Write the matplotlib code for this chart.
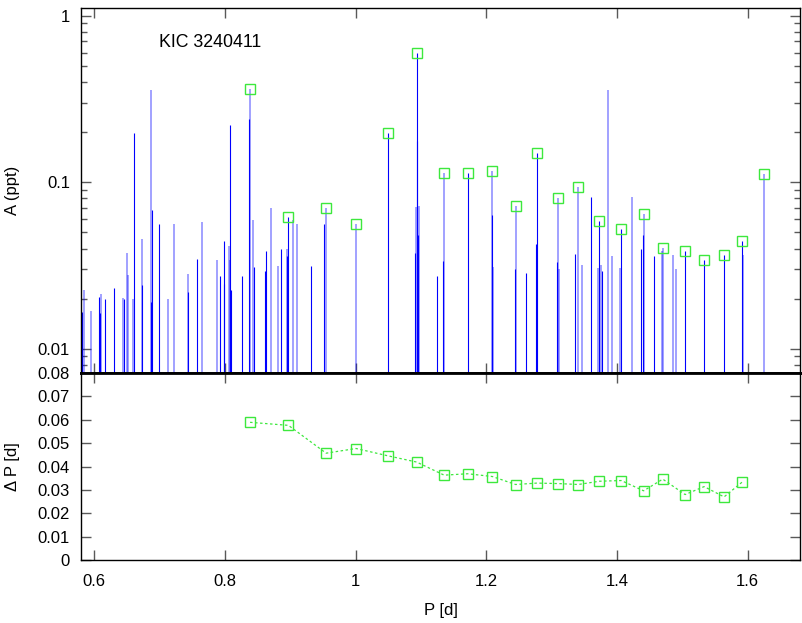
import numpy as np
import matplotlib
matplotlib.use('Agg')
import matplotlib.pyplot as plt
from matplotlib.ticker import FixedLocator, FixedFormatter, LogLocator, NullFormatter

plt.rcParams['font.family'] = ['Liberation Sans', 'DejaVu Sans']
plt.rcParams['font.size'] = 12

# dark (solid blue) peaks: period [d], amplitude [ppt]
p_dark = [0.5815, 0.6077, 0.609, 0.617, 0.6307, 0.646, 0.6613, 0.6736, 0.687, 0.688,
          0.6997, 0.743, 0.758, 0.793, 0.798, 0.799, 0.8084, 0.810, 0.8264, 0.8366,
          0.845, 0.862, 0.8636, 0.8866, 0.8953, 0.8973, 0.932, 0.951, 1.049, 1.091,
          1.0935, 1.0946, 1.096, 1.124, 1.1333, 1.1717, 1.2085, 1.2437, 1.2605, 1.276,
          1.2774, 1.3081, 1.336, 1.3597, 1.3729, 1.3765, 1.4065, 1.436, 1.439, 1.4569,
          1.5042, 1.5333, 1.5638, 1.5913]
a_dark = [0.0166, 0.0206, 0.0164, 0.0200, 0.0231, 0.0200, 0.197, 0.024, 0.019, 0.0683,
          0.0565, 0.022, 0.0346, 0.0274, 0.0245, 0.0446, 0.220, 0.0225, 0.0273, 0.240,
          0.0308, 0.0293, 0.0384, 0.0397, 0.0360, 0.0622, 0.0315, 0.0565, 0.197, 0.0375,
          0.594, 0.177, 0.0483, 0.0274, 0.0335, 0.114, 0.0637, 0.0303, 0.0287, 0.0425,
          0.149, 0.033, 0.0371, 0.082, 0.0587, 0.0295, 0.0523, 0.0397, 0.0483, 0.036,
          0.0385, 0.0342, 0.0367, 0.0445]

# light (faint blue) peaks
p_light = [0.585, 0.595, 0.610, 0.644, 0.6496, 0.652, 0.659, 0.6736, 0.6874, 0.7125,
           0.7217, 0.743, 0.7655, 0.7876, 0.807, 0.8085, 0.8386, 0.843, 0.8713, 0.881,
           0.8955, 0.9045, 0.9107, 0.955, 1.0008, 1.092, 1.0977, 1.1355, 1.2095, 1.211,
           1.2448, 1.3102, 1.312, 1.3408, 1.346, 1.3713, 1.375, 1.3857, 1.392, 1.4045,
           1.4228, 1.4407, 1.4686, 1.470, 1.4855, 1.491, 1.5935, 1.6244]
a_light = [0.0226, 0.0168, 0.0213, 0.0203, 0.0375, 0.0278, 0.020, 0.0455, 0.358, 0.020,
           0.0565, 0.0282, 0.058, 0.0342, 0.0415, 0.034, 0.362, 0.0595, 0.0705, 0.0315,
           0.0397, 0.0595, 0.0565, 0.0705, 0.0565, 0.0715, 0.072, 0.114, 0.1175, 0.0308,
           0.0722, 0.080, 0.030, 0.094, 0.032, 0.0305, 0.032, 0.358, 0.036, 0.0305,
           0.082, 0.0644, 0.0384, 0.0402, 0.0365, 0.030, 0.0365, 0.1117]

# modes of the period-spacing sequence
p_seq = [0.8386, 0.8973, 0.955, 1.0008, 1.049, 1.0935, 1.1355, 1.1717, 1.2095, 1.2448,
         1.2774, 1.3102, 1.3408, 1.3729, 1.4065, 1.4407, 1.470, 1.5042, 1.5333, 1.5638,
         1.5913, 1.6244]
a_seq = [0.362, 0.0622, 0.0705, 0.0565, 0.197, 0.594, 0.114, 0.114, 0.1175, 0.0722,
         0.149, 0.080, 0.094, 0.0587, 0.0523, 0.0644, 0.0402, 0.0385, 0.0342, 0.0367,
         0.0445, 0.1117]

# period spacing
dp = [0.0589, 0.0576, 0.0457, 0.0477, 0.0446, 0.0419, 0.0363, 0.0369, 0.0357, 0.0323,
      0.0329, 0.0327, 0.0323, 0.0337, 0.034, 0.0296, 0.0346, 0.028, 0.0314, 0.027, 0.0333]

green = '#3de83d'

fig = plt.figure(figsize=(8.03, 6.23), dpi=100)
ax1 = fig.add_axes([0.1009, 0.4013, 0.8954, 0.5859])
ax2 = fig.add_axes([0.1009, 0.1011, 0.8954, 0.3002], sharex=ax1)

# top: amplitude spectrum
ax1.vlines(p_light, 1e-4, a_light, color=(0, 0, 1, 0.4), lw=1.3)
ax1.vlines(p_dark, 1e-4, a_dark, color='#0000ff', lw=0.8)
ax1.plot(p_seq, a_seq, ls='none', marker='s', ms=7, mfc='none', mec=green, mew=1.0)
ax1.set_yscale('log')
ax1.set_ylim(0.00716, 1.112)
ax1.set_xlim(0.58, 1.68)
ax1.yaxis.set_major_locator(FixedLocator([0.01, 0.1, 1]))
ax1.yaxis.set_major_formatter(FixedFormatter(['0.01', '0.1', '1']))
ax1.yaxis.set_minor_locator(LogLocator(base=10, subs=np.arange(2, 10)))
ax1.yaxis.set_minor_formatter(NullFormatter())
ax1.set_ylabel('A (ppt)')
ax1.yaxis.set_label_coords(-0.085, 0.5)
ax1.text(0.699, 0.686, 'KIC 3240411', fontsize=12.8, va='center')
ax1.tick_params(labelbottom=False)

# bottom: period spacing
ax2.plot(p_seq[:-1], dp, color=green, ls=(0, (2, 2)), lw=0.9,
         marker='s', ms=7, mfc='none', mec=green, mew=1.0)
ax2.set_ylim(0, 0.08)
ax2.yaxis.set_major_locator(FixedLocator([0, 0.01, 0.02, 0.03, 0.04, 0.05, 0.06, 0.07, 0.08]))
ax2.yaxis.set_major_formatter(FixedFormatter(['0', '0.01', '0.02', '0.03', '0.04', '0.05', '0.06', '0.07', '0.08']))
ax2.xaxis.set_major_locator(FixedLocator([0.6, 0.8, 1.0, 1.2, 1.4, 1.6]))
ax2.xaxis.set_major_formatter(FixedFormatter(['0.6', '0.8', '1', '1.2', '1.4', '1.6']))
ax2.set_xlabel('P [d]', labelpad=10)
ax2.set_ylabel('Δ P [d]')
ax2.yaxis.set_label_coords(-0.085, 0.5)

for ax in (ax1, ax2):
    ax.tick_params(which='both', direction='in', top=True, right=True, color='0.35')
    ax.tick_params(which='major', length=7, width=1)
    ax.tick_params(which='minor', length=4, width=1)
    ax.tick_params(axis='y', pad=8)
    ax.tick_params(axis='x', pad=10)
    for s in ax.spines.values():
        s.set_linewidth(1.0)
ax1.spines['bottom'].set_linewidth(2.0)
ax2.spines['top'].set_linewidth(2.0)

fig.savefig('out.png', dpi=100)
